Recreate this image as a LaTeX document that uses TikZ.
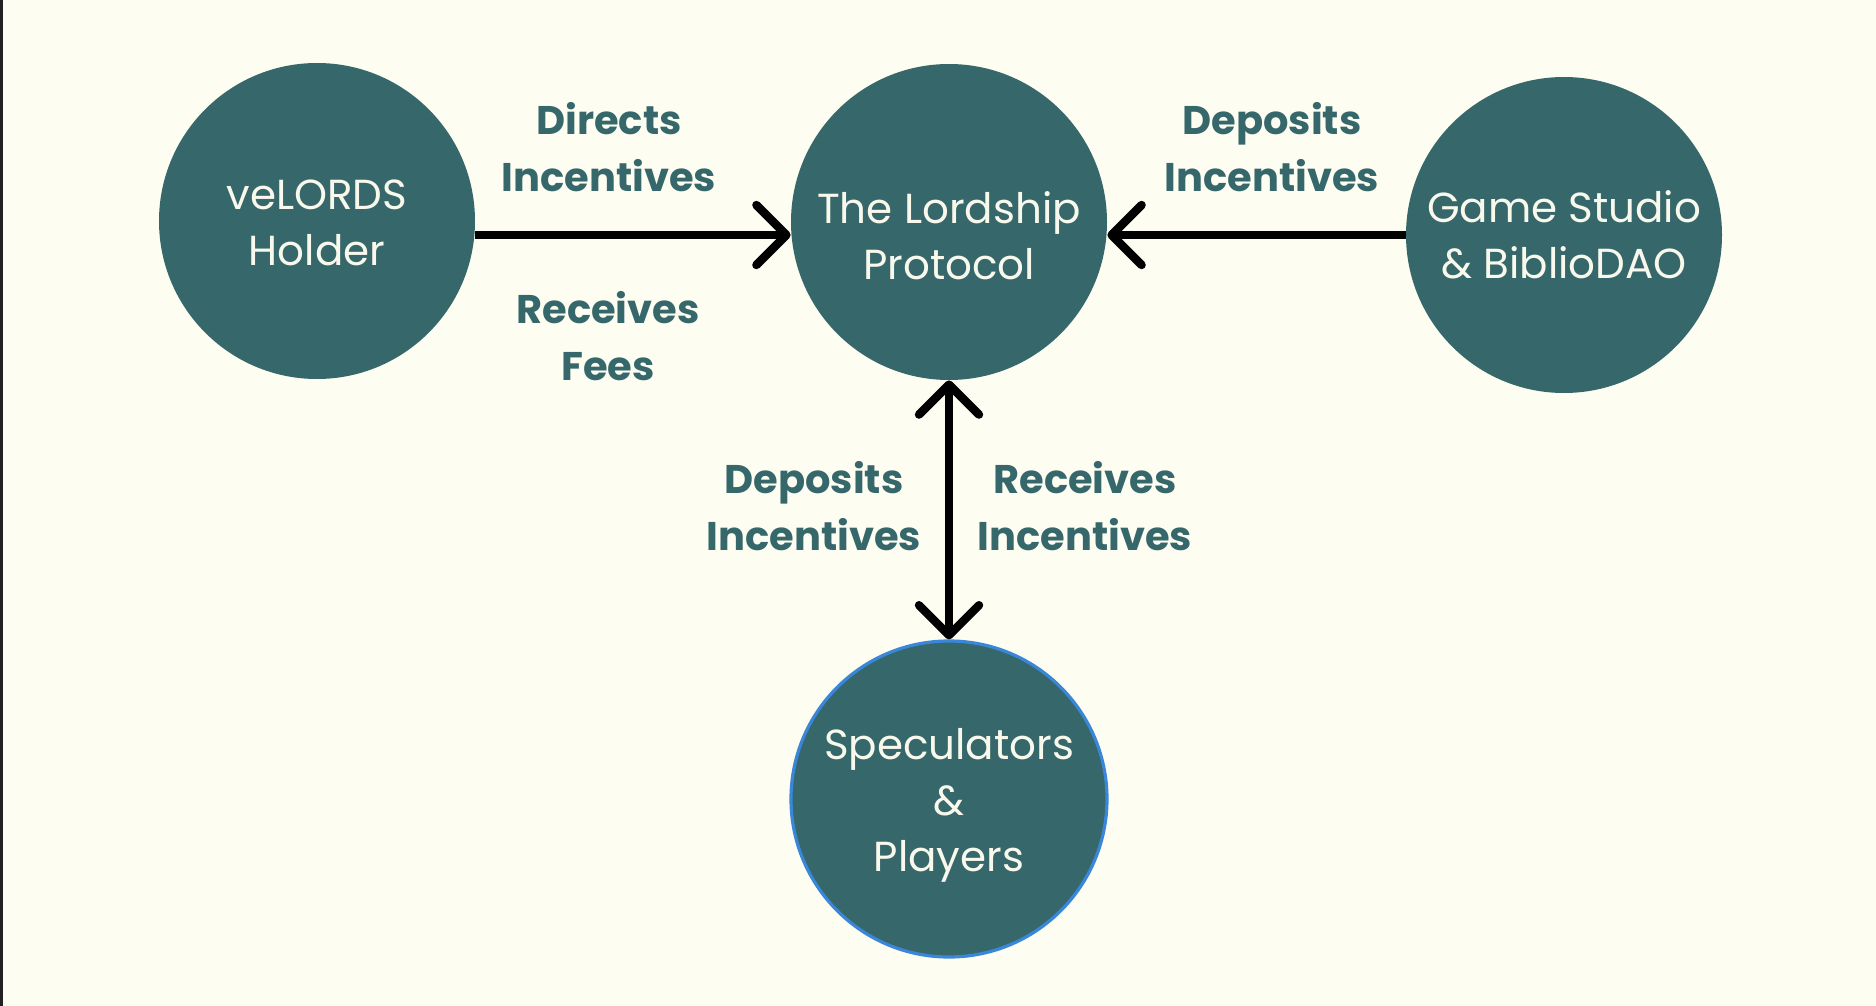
\documentclass[tikz,border=0pt]{standalone}
\usepackage{fontspec}
\setmainfont{Poppins}
\usetikzlibrary{arrows.meta}
\definecolor{bgcream}{HTML}{FDFDF2}
\definecolor{dteal}{HTML}{36676A}
\definecolor{lighttext}{HTML}{F8F8EC}
\definecolor{ringblue}{HTML}{3A86D9}
\definecolor{edgebar}{HTML}{222222}
\begin{document}
\begin{tikzpicture}[x=0.5pt,y=-0.5pt,
  circ/.style={circle, fill=dteal, minimum size=158pt, inner sep=0pt},
  ctext/.style={text=lighttext, font=\fontsize{21}{28}\selectfont, align=center},
  elab/.style={text=dteal, font=\fontsize{20}{28.5}\selectfont\bfseries, align=center},
  barb/.tip={Straight Barb[length=15pt,width=30pt,round]},
  conn/.style={line width=4.2pt, draw=black}
]
\useasboundingbox (0,0) rectangle (1876,1006);
\fill[bgcream] (0,0) rectangle (1876,1006);
\fill[edgebar] (0,0) rectangle (2.5,1006);

\node[circ, label={[ctext, yshift=-1pt]center:veLORDS\\Holder}] (velords) at (317,221) {};
\node[circ, label={[ctext, yshift=-7pt]center:The Lordship\\Protocol}] (lord) at (949,222) {};
\node[circ, label={[ctext]center:Game Studio\\\& BiblioDAO}] (game) at (1564,235) {};
\node[circ, draw=ringblue, line width=1.6pt,
  label={[ctext, yshift=-3pt]center:Speculators\\\&\\Players}] (spec) at (949,799) {};

\draw[conn, -barb] (velords.east |- game.west) -- (lord.west |- game.west);
\draw[conn, -barb] (game.west) -- (lord.east |- game.west);
\draw[conn, barb-barb] (lord.south) -- (spec.north);

\node[elab] (l1) at (609,147) {Directs\\Incentives};
\node[elab] (l2) at (608,336) {Receives\\Fees};
\node[elab] (l3) at (1272,147) {Deposits\\Incentives};
\node[elab] (l4) at (814,506) {Deposits\\Incentives};
\node[elab] (l5) at (1085,506) {Receives\\Incentives};
\end{tikzpicture}
\end{document}
